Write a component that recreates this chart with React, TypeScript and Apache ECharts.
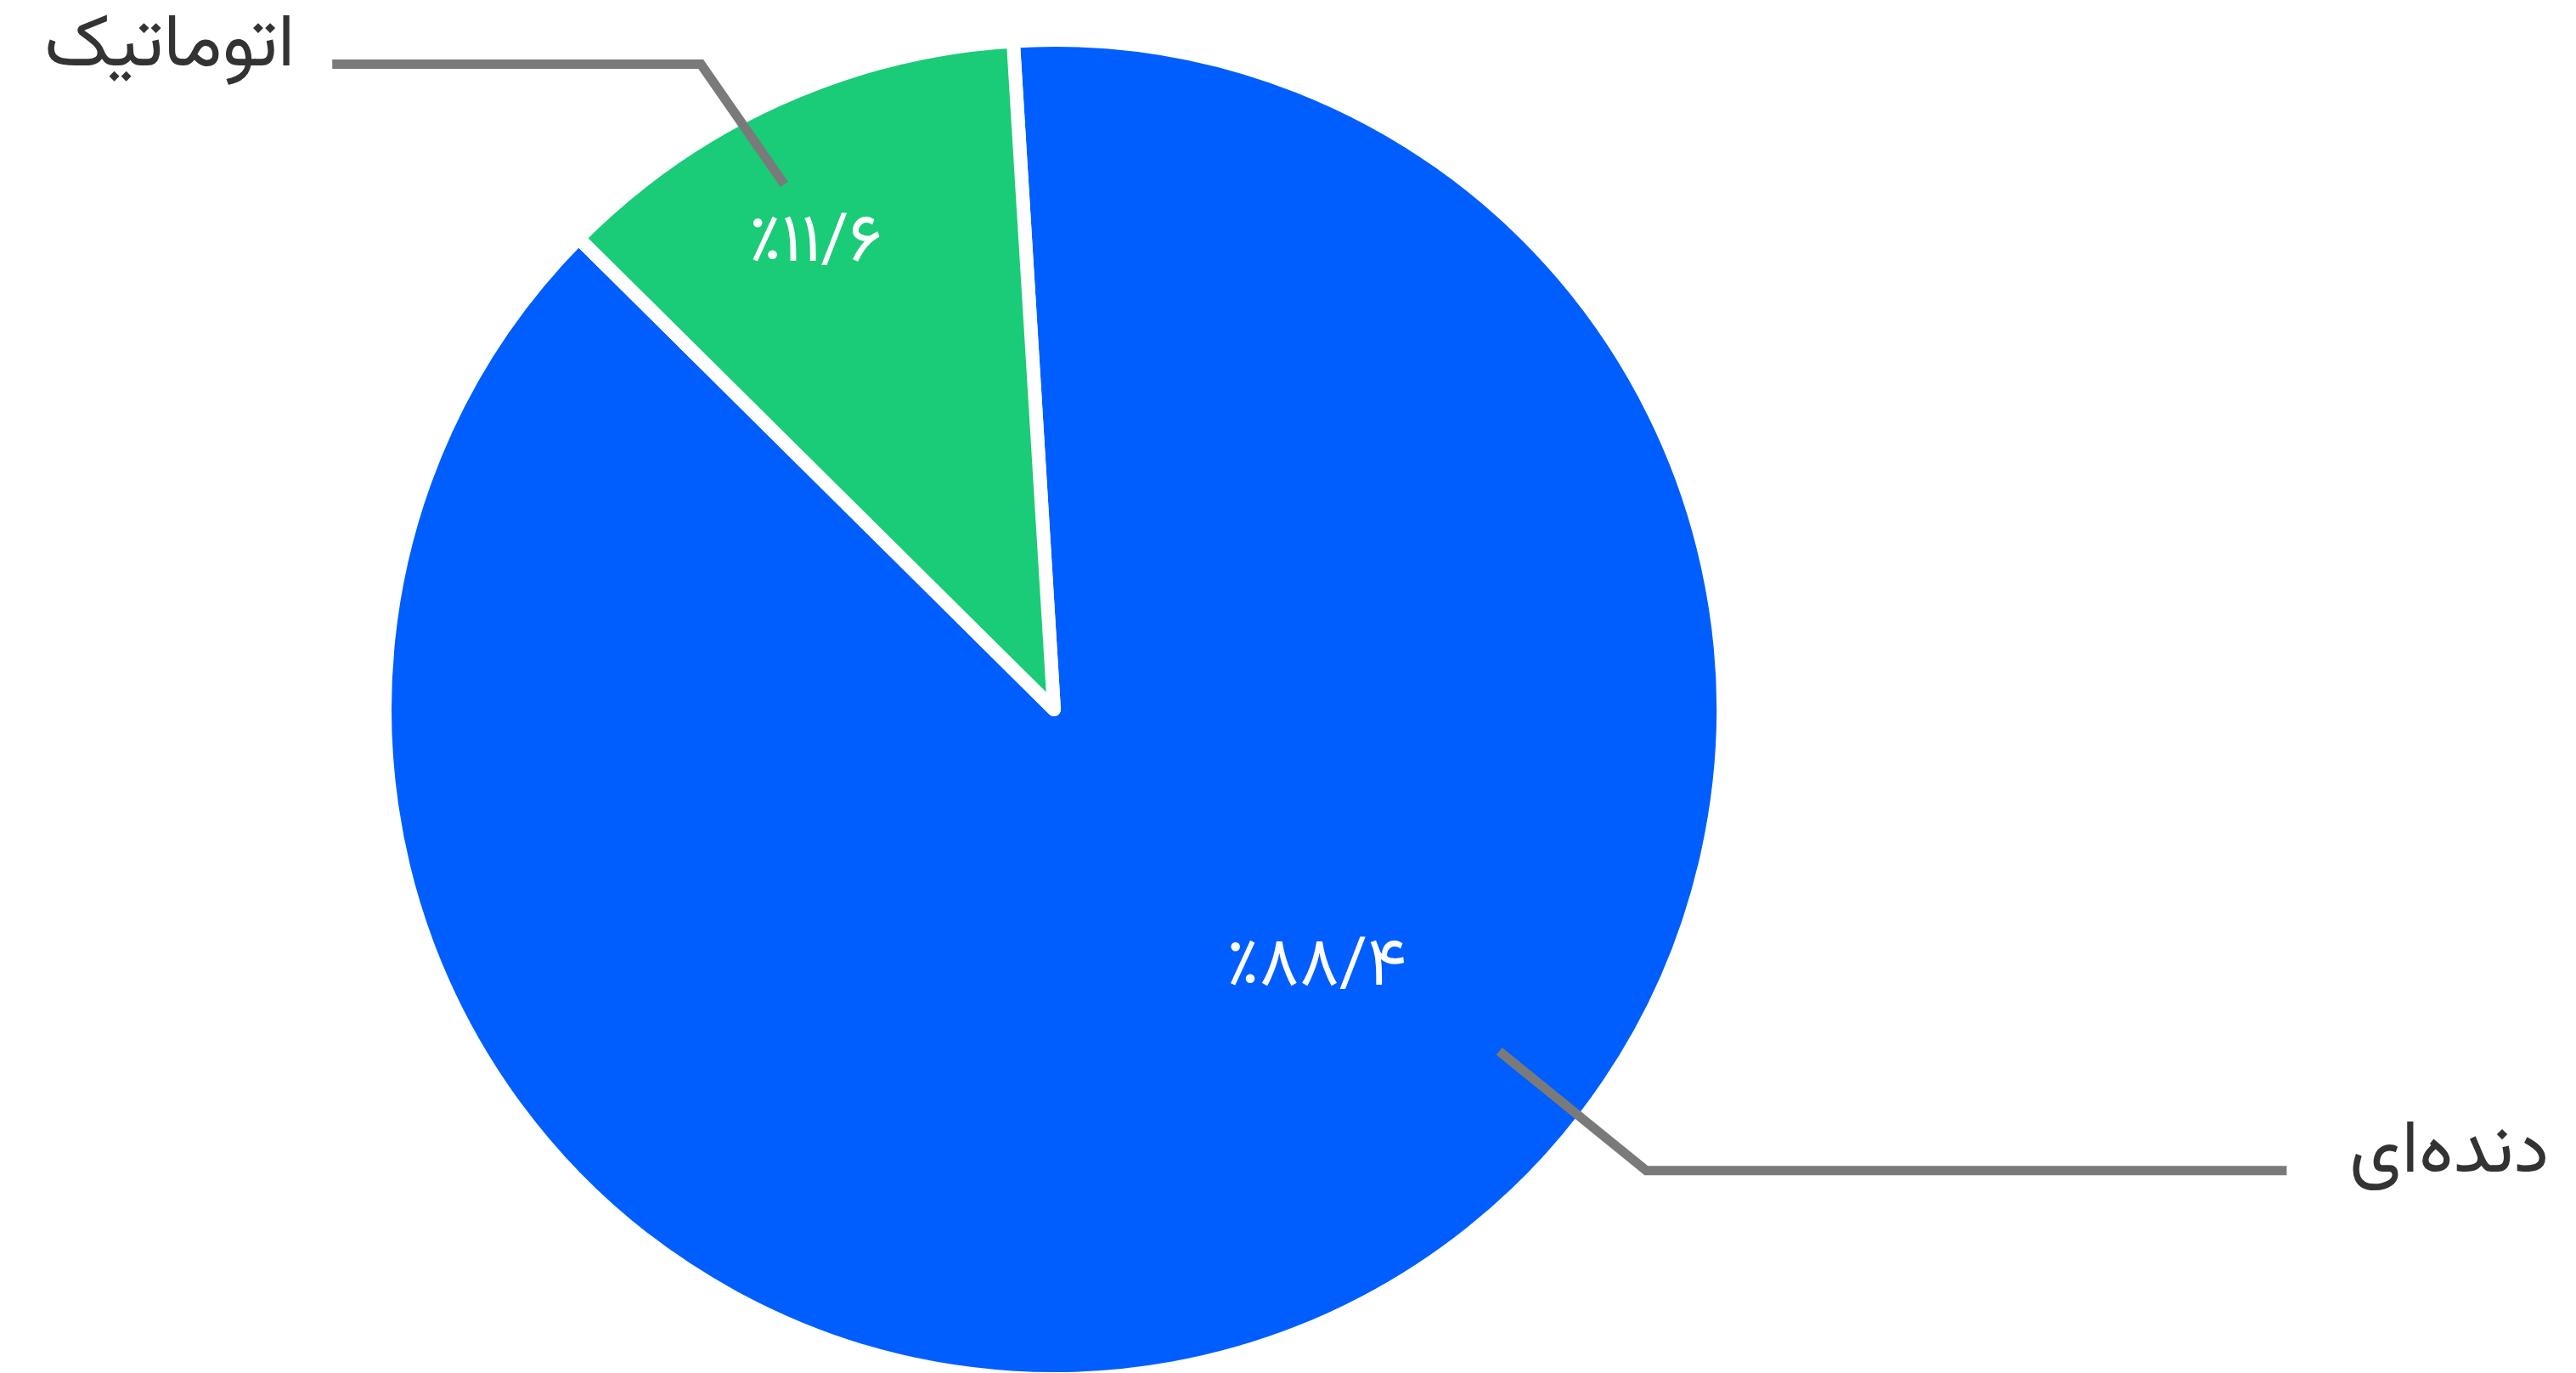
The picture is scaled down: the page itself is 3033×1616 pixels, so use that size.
import React, { useEffect, useRef } from 'react';
import * as echarts from 'echarts';

// ---- data ----
const categories: string[] = ['دنده‌ای', 'اتوماتیک'];
const shares: number[] = [88.4, 11.6];
const sliceColors: string[] = ['#005EFF', '#1ACB77'];

// ---- layout (not data) ----
const W = 3033;
const H = 1616;
const CX = 1241;
const CY = 835;
const R_VIS = 780;
const BORDER = 16;
const START_ANGLE = 93.5;

const innerPlacement = [
  { angle: -44, radius: 0.55 },
  { angle: 116.9, radius: 0.797 },
];
const outerPlacement = [
  { startAngle: -37.5, start: 0.847, cornerAngle: -37.9, corner: 1.133, length2: 754, side: 'right', gap: 74 },
  { startAngle: 117.2, start: 0.891, cornerAngle: 118.7, corner: 1.11, length2: 434, side: 'left', gap: 44 },
];

const FONT = "Vazirmatn, 'DejaVu Sans', sans-serif";
const INNER_FS = 80;
const OUTER_FS = 87;

const persianDigits = ['۰', '۱', '۲', '۳', '۴', '۵', '۶', '۷', '۸', '۹'];
function toPersian(v: number): string {
  return String(v)
    .split('')
    .map((c) => (c >= '0' && c <= '9' ? persianDigits[+c] : c === '.' ? '/' : c))
    .join('');
}

function polar(angleDeg: number, r: number): [number, number] {
  const a = (angleDeg * Math.PI) / 180;
  return [CX + Math.cos(a) * r, CY - Math.sin(a) * r];
}

export default function App() {
  const ref = useRef<HTMLDivElement>(null);
  useEffect(() => {
    document.body.style.margin = '0';
    const chart = echarts.init(ref.current!, undefined, { renderer: 'svg' });
    const data = categories.map((name, i) => ({
      name,
      value: shares[i],
      itemStyle: { color: sliceColors[i] },
    }));
    chart.setOption({
      animation: false,
      backgroundColor: '#ffffff',
      series: [
        {
          type: 'pie',
          z: 2,
          center: [CX, CY],
          radius: [0, R_VIS + BORDER / 2],
          startAngle: START_ANGLE,
          clockwise: true,
          silent: true,
          itemStyle: { borderColor: '#ffffff', borderWidth: BORDER, borderJoin: 'round' },
          label: {
            show: true,
            position: 'inside',
            color: '#ffffff',
            fontFamily: FONT,
            fontSize: INNER_FS,
            formatter: (p: any) => '٪' + toPersian(p.value),
          },
          labelLine: { show: false },
          labelLayout: (p: any) => {
            const pl = innerPlacement[p.dataIndex];
            const [x, y] = polar(pl.angle, pl.radius * R_VIS);
            return { x, y: y + INNER_FS * 0.08, align: 'center', verticalAlign: 'middle' };
          },
          data,
        },
        {
          type: 'pie',
          z: 5,
          center: [CX, CY],
          radius: [0, R_VIS],
          startAngle: START_ANGLE,
          clockwise: true,
          silent: true,
          itemStyle: { color: 'rgba(0,0,0,0)', borderWidth: 0 },
          label: {
            show: true,
            position: 'outside',
            color: '#333333',
            fontFamily: FONT,
            fontSize: OUTER_FS,
            formatter: '{b}',
          },
          labelLine: {
            show: true,
            length: 20,
            length2: 20,
            lineStyle: { color: '#7A7A7A', width: 11 },
          },
          labelLayout: (p: any) => {
            const pl = outerPlacement[p.dataIndex];
            const p0 = polar(pl.startAngle, pl.start * R_VIS);
            const p1 = polar(pl.cornerAngle, pl.corner * R_VIS);
            const dir = pl.side === 'right' ? 1 : -1;
            const p2: [number, number] = [p1[0] + dir * pl.length2, p1[1]];
            return {
              x: p2[0] + dir * pl.gap,
              y: p2[1] - OUTER_FS * 0.225,
              align: pl.side === 'right' ? 'left' : 'right',
              verticalAlign: 'middle',
              labelLinePoints: [p0, p1, p2],
            };
          },
          data: categories.map((name, i) => ({ name, value: shares[i] })),
        },
      ],
    });
    return () => chart.dispose();
  }, []);
  return (
    <div
      ref={ref}
      style={{ position: 'fixed', left: 0, top: 0, width: W, height: H, background: '#fff' }}
    />
  );
}
